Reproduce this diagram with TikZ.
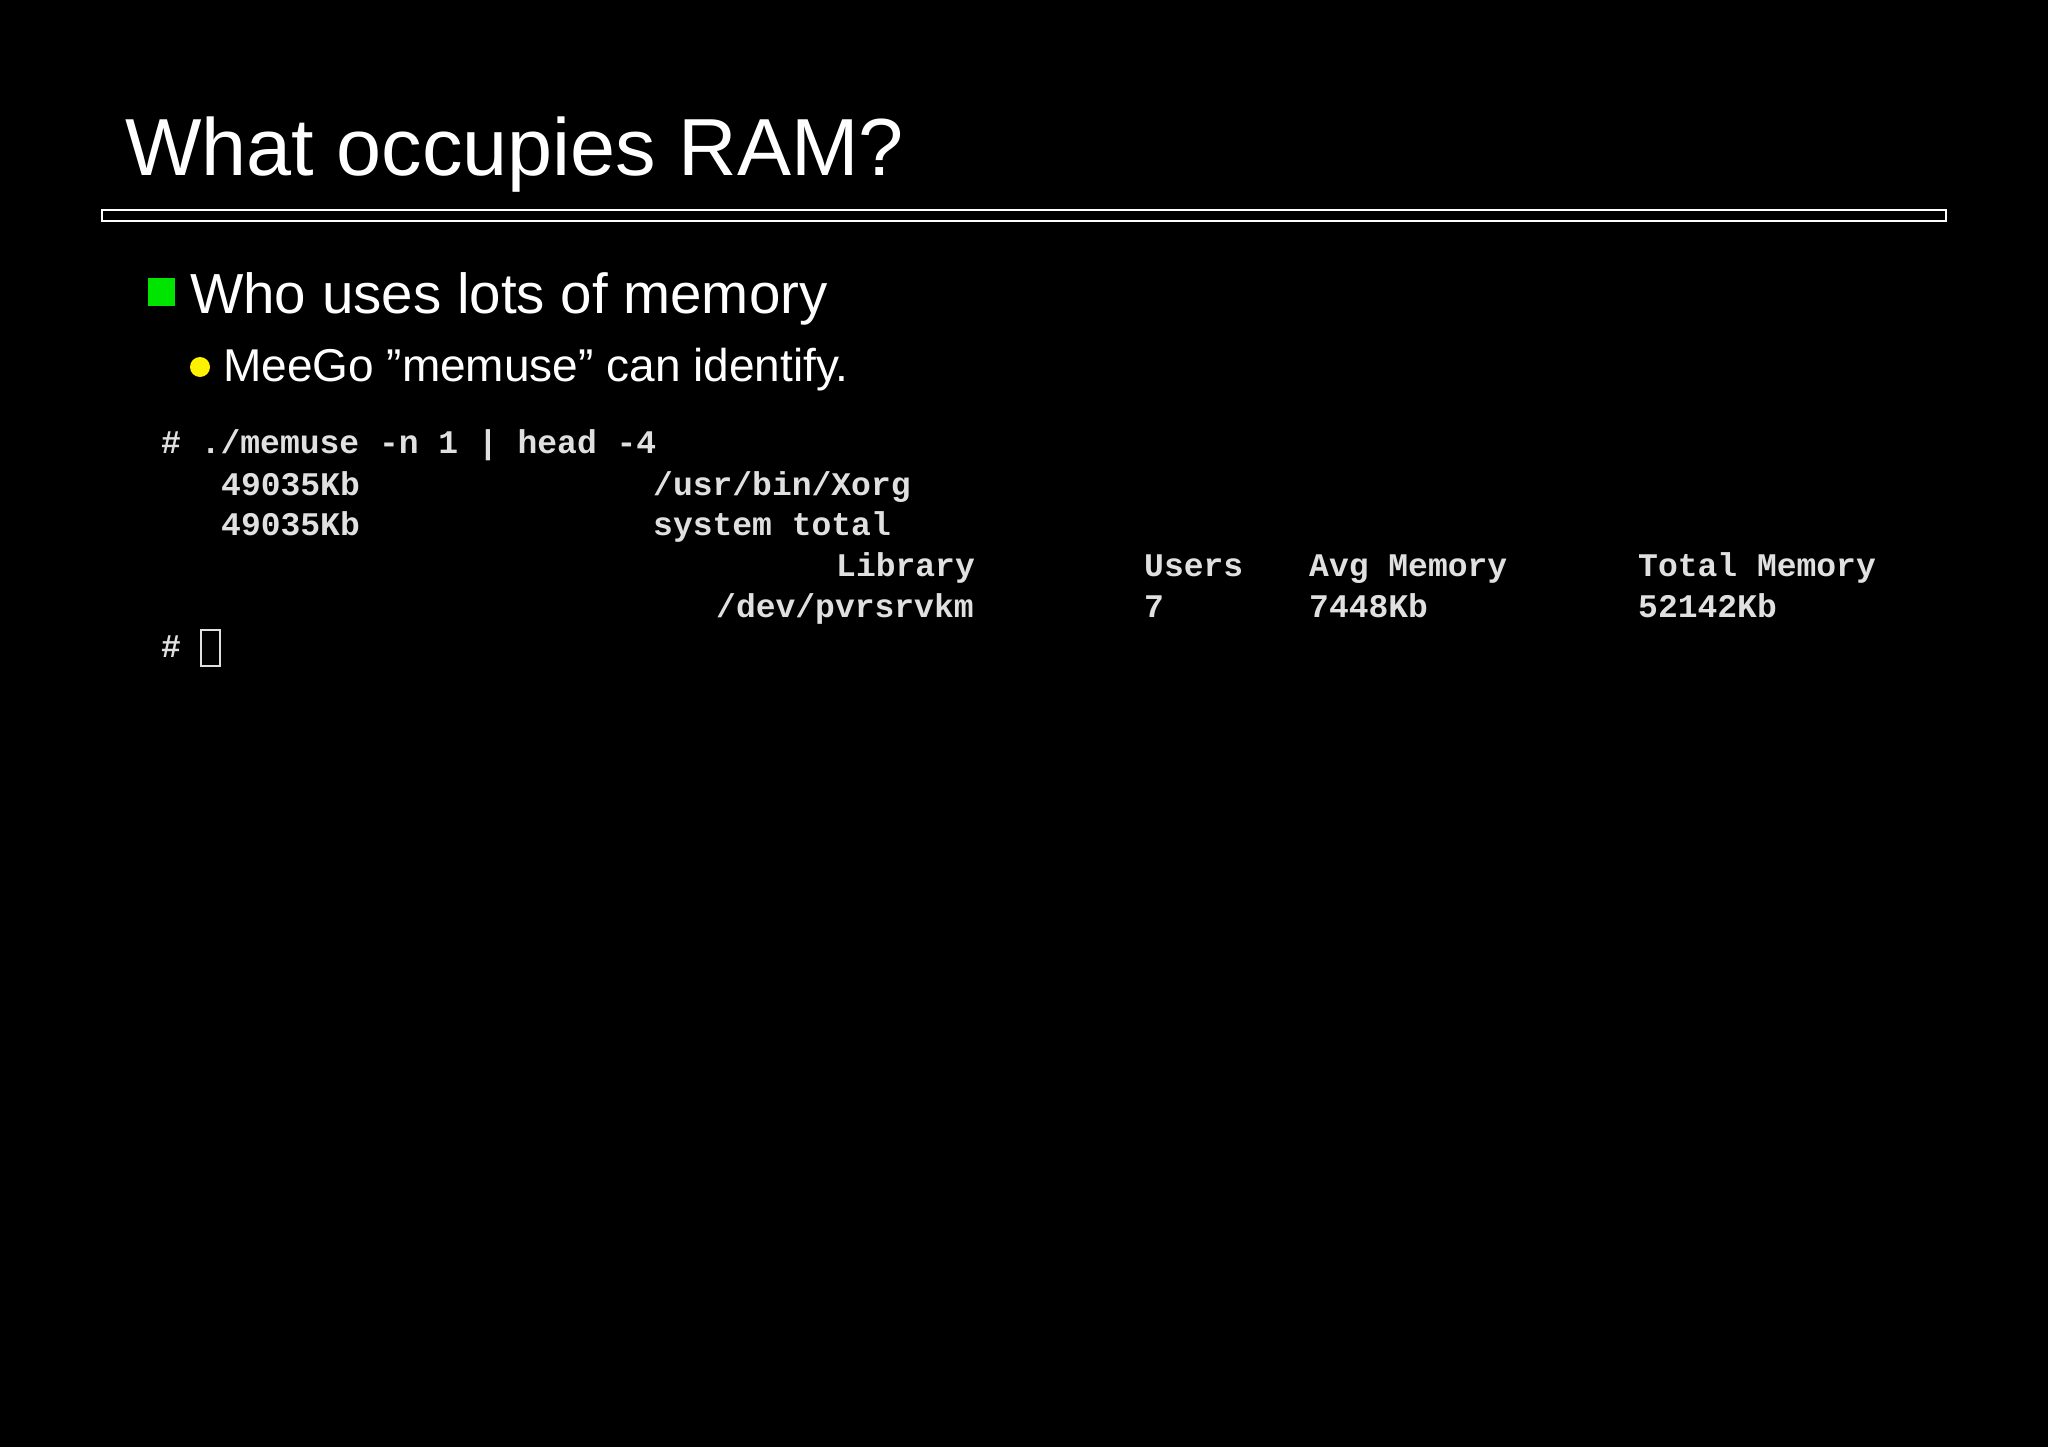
\documentclass[tikz,border=0pt]{standalone}
\usepackage{fontspec}
\setmainfont{Liberation Sans}
\newfontfamily\termfont{Liberation Mono}
\tikzset{
  term/.style={anchor=base west,inner sep=0pt,text=black!12,font=\termfont\bfseries\fontsize{33}{33}\selectfont},
  slidetext/.style={anchor=base west,inner sep=0pt,text=white}
}
\begin{document}
\begin{tikzpicture}[x=1pt,y=-1pt]
\fill[black] (0,0) rectangle (2048,1447);
\useasboundingbox (0,0) rectangle (2048,1447);
\node[slidetext,font=\fontsize{81}{81}\selectfont] (title) at (125,176) {What occupies RAM?};
\draw[white,line width=2.5pt] (102,210) rectangle (1946,221);
\fill[green!90!black] (148,278) rectangle (175,306);
\node[slidetext,font=\fontsize{56.5}{56.5}\selectfont] (b1) at (190,313) {Who uses lots of memory};
\fill[yellow] (200,367) circle (10);
\node[slidetext,font=\fontsize{46}{46}\selectfont] (b2) at (223,381) {MeeGo \symbol{34}memuse\symbol{34} can identify.};
\node[term] (l1) at (161,453) {\# ./memuse -n 1 | head -4};
\node[term] (l2a) at (221,495) {49035Kb};
\node[term] (l2b) at (653,495) {/usr/bin/Xorg};
\node[term] (l3a) at (221,535) {49035Kb};
\node[term] (l3b) at (653,535) {system total};
\node[term] (l4a) at (836,576) {Library};
\node[term] (l4b) at (1144,576) {Users};
\node[term] (l4c) at (1309,576) {Avg Memory};
\node[term] (l4d) at (1638,576) {Total Memory};
\node[term] (l5a) at (716,617) {/dev/pvrsrvkm};
\node[term] (l5b) at (1144,617) {7};
\node[term] (l5c) at (1309,617) {7448Kb};
\node[term] (l5d) at (1638,617) {52142Kb};
\node[term] (l6) at (161,657) {\#};
\draw[black!12,line width=2.5pt] (201,630) rectangle (220,666);
\end{tikzpicture}
\end{document}
